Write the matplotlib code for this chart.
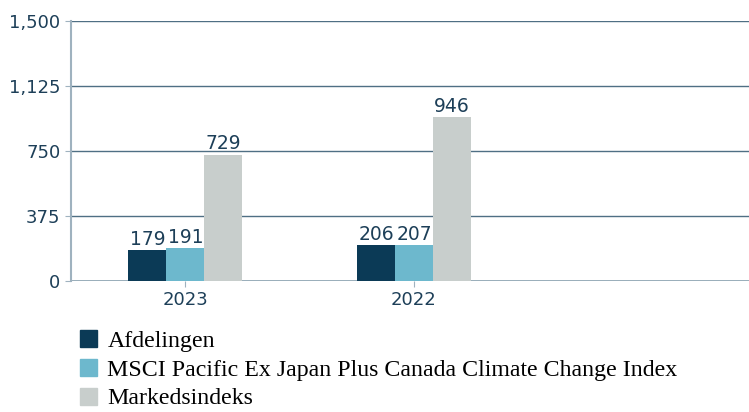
import matplotlib
matplotlib.use("Agg")
import matplotlib.pyplot as plt
from matplotlib.patches import Patch
import numpy as np

years = ['2023', '2022']
series_names = ['Afdelingen',
                'MSCI Pacific Ex Japan Plus Canada Climate Change Index',
                'Markedsindeks']
afdelingen = [179, 206]
msci = [191, 207]
markedsindeks = [729, 946]
yticks = [0, 375, 750, 1125, 1500]

colors = ['#0b3a56', '#6db8cd', '#c8cecc']
text_col = '#1d3f58'

fig = plt.figure(figsize=(7.49, 4.12), dpi=100)
ax = fig.add_axes([71 / 749, 1 - 281 / 412, 686 / 749, 260 / 412])

x = np.arange(len(years))
w = 0.166
for i, (vals, c) in enumerate(zip([afdelingen, msci, markedsindeks], colors)):
    pos = x + (i - 1) * w
    ax.bar(pos, vals, width=w, color=c, zorder=3)
    for p, v in zip(pos, vals):
        ax.text(p, v + 8, str(v), ha='center', va='bottom', fontsize=13.5,
                color=text_col, zorder=4)

ax.set_xlim(-0.5, 2.5)
ax.set_ylim(0, 1500)
ax.set_yticks(yticks)
ax.set_yticklabels([f'{t:,}' for t in yticks])
ax.set_xticks(x)
ax.set_xticklabels(years)
ax.tick_params(axis='both', labelsize=13, labelcolor=text_col, color='#9fb2bf', length=4)
ax.grid(axis='y', color='#4f6f84', linewidth=1, zorder=0)
for s in ['top', 'right', 'bottom']:
    ax.spines[s].set_visible(False)
ax.spines['left'].set_color('#9fb2bf')
ax.spines['left'].set_linewidth(1.5)
ax.axhline(0, color='#8fa5b3', linewidth=1.2, zorder=2)

handles = [Patch(color=c) for c in colors]
fig.legend(handles, series_names, loc='upper left', bbox_to_anchor=(80 / 749, 1 - 330 / 412),
           frameon=False, prop={'family': 'Liberation Serif', 'size': 17.2},
           handlelength=0.7, handleheight=0.7, handletextpad=0.45, labelspacing=0.3,
           borderaxespad=0, borderpad=0)

fig.savefig('out.png', dpi=100)
